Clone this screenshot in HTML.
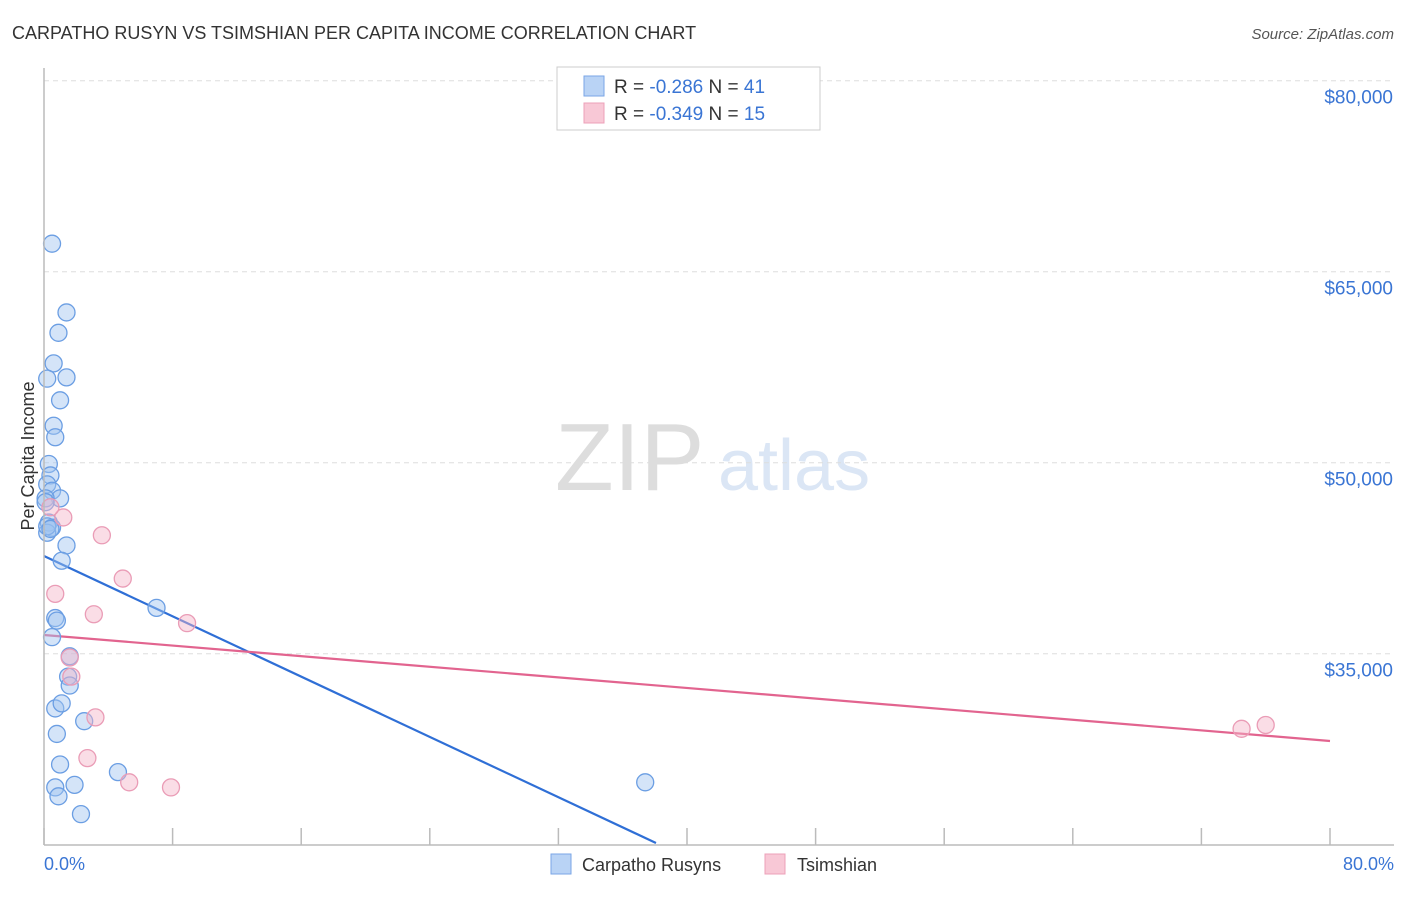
<!DOCTYPE html>
<html><head><meta charset="utf-8"><style>
body{margin:0;background:#fff;font-family:"Liberation Sans",sans-serif;}
svg text{font-family:"Liberation Sans",sans-serif;}
</style></head><body>
<svg id="chart" width="1406" height="892">
<text x="12" y="39" font-size="18" fill="#333">CARPATHO RUSYN VS TSIMSHIAN PER CAPITA INCOME CORRELATION CHART</text>
<text x="1394" y="39" font-size="15" fill="#555" font-style="italic" text-anchor="end">Source: ZipAtlas.com</text>
<text x="34" y="456" font-size="18" fill="#333" text-anchor="middle" transform="rotate(-90 34 456)">Per Capita Income</text>
<text x="555" y="490" font-size="96" fill="#ddd" font-family="Liberation Serif">ZIP</text>
<text x="718" y="490" font-size="72" fill="#dbe6f5">atlas</text>
<g id="grid"></g><g id="ticks"></g><g id="lines"></g><g id="pts"></g>
<line x1="44" y1="68" x2="44" y2="845" stroke="#bbb" stroke-width="1.5"/>
<line x1="44" y1="845" x2="1394" y2="845" stroke="#bbb" stroke-width="1.5"/>
<text x="44" y="870" font-size="18" fill="#3a75d4">0.0%</text>
<text x="1394" y="870" font-size="18" fill="#3a75d4" text-anchor="end">80.0%</text>
<g>
<rect x="557" y="67" width="263" height="63" fill="#fff" stroke="#ccc"/>
<rect x="584" y="76" width="20" height="20" fill="#b9d3f5" stroke="#7aa6e6"/>
<text x="614" y="93" font-size="19" fill="#333">R = <tspan fill="#3a75d4">-0.286</tspan>   N = <tspan fill="#3a75d4">41</tspan></text>
<rect x="584" y="103" width="20" height="20" fill="#f8c8d6" stroke="#eda0b8"/>
<text x="614" y="120" font-size="19" fill="#333">R = <tspan fill="#3a75d4">-0.349</tspan>   N = <tspan fill="#3a75d4">15</tspan></text>
</g>
<g>
<rect x="551" y="854" width="20" height="20" fill="#b9d3f5" stroke="#7aa6e6"/>
<text x="582" y="871" font-size="18" fill="#333">Carpatho Rusyns</text>
<rect x="765" y="854" width="20" height="20" fill="#f8c8d6" stroke="#eda0b8"/>
<text x="797" y="871" font-size="18" fill="#333">Tsimshian</text>
</g>
</svg>
<script>
const yTicks=[35000,50000,65000,80000];
const yTickLabels=["$35,000","$50,000","$65,000","$80,000"];
const xTicks=[0,8,16,24,32,40,48,56,64,72,80];
const blueX=[0.5,1.4,0.9,0.6,0.2,1.4,1.0,0.6,0.7,0.3,0.4,0.2,0.5,1.0,0.1,0.3,0.5,0.2,1.4,1.1,7.0,0.7,0.8,0.5,1.6,1.5,1.6,0.7,1.1,2.5,0.8,1.0,4.6,0.7,1.9,0.9,2.3,37.4,0.2,0.4,0.1];
const blueY=[67200,61800,60200,57800,56600,56700,54900,52900,52000,49900,49000,48300,47800,47200,47200,45300,44900,44500,43500,42300,38600,37800,37600,36300,34800,33200,32500,30700,31100,29700,28700,26300,25700,24500,24700,23800,22400,24900,45000,44800,46900];
const pinkX=[1.2,3.6,4.9,0.7,3.1,8.9,1.6,1.7,3.2,2.7,5.3,7.9,74.5,76.0,0.4];
const pinkY=[45700,44300,40900,39700,38100,37400,34700,33200,30000,26800,24900,24500,29100,29400,46500];
const blueTrend=[[0,42673],[38.07,20135]];
const pinkTrend=[[0,36470],[80,28146]];
const X=v=>44+v/80*1286;
const Y=v=>80.7+(80000-v)/15000*191;
const NS="http://www.w3.org/2000/svg";
function mk(t,a,p){const e=document.createElementNS(NS,t);for(const k in a)e.setAttribute(k,a[k]);p.appendChild(e);return e;}
const grid=document.getElementById('grid'),ticks=document.getElementById('ticks'),lines=document.getElementById('lines'),pts=document.getElementById('pts');
yTicks.forEach((v,i)=>{
 const l=mk('line',{x1:44,x2:1394,y1:Y(v),y2:Y(v),stroke:'#ddd','stroke-dasharray':'5,4'},grid);
 
 
 const t=mk('text',{x:1393,y:Y(v)+23,'font-size':19,fill:'#3a75d4','text-anchor':'end'},grid);
 t.textContent=yTickLabels[i];
 
 
});
xTicks.forEach(v=>{
 const l=mk('line',{x1:X(v),x2:X(v),y1:828,y2:845,stroke:'#bbb','stroke-width':1.5},ticks);
 
 
});
blueX.forEach((x,i)=>{
 const c=mk('circle',{cx:X(x),cy:Y(blueY[i]),r:8.5,fill:'rgba(160,195,240,0.45)',stroke:'#6b9ee3','stroke-width':1.3},pts);
 
 
});
pinkX.forEach((x,i)=>{
 const c=mk('circle',{cx:X(x),cy:Y(pinkY[i]),r:8.5,fill:'rgba(245,180,200,0.45)',stroke:'#ea9cb6','stroke-width':1.3},pts);
 
 
});
const bl=mk('line',{x1:X(blueTrend[0][0]),y1:Y(blueTrend[0][1]),x2:X(blueTrend[1][0]),y2:Y(blueTrend[1][1]),stroke:'#2f6fd6','stroke-width':2.2},lines);


const pl=mk('line',{x1:X(pinkTrend[0][0]),y1:Y(pinkTrend[0][1]),x2:X(pinkTrend[1][0]),y2:Y(pinkTrend[1][1]),stroke:'#e2648f','stroke-width':2.2},lines);


</script>
</body></html>
